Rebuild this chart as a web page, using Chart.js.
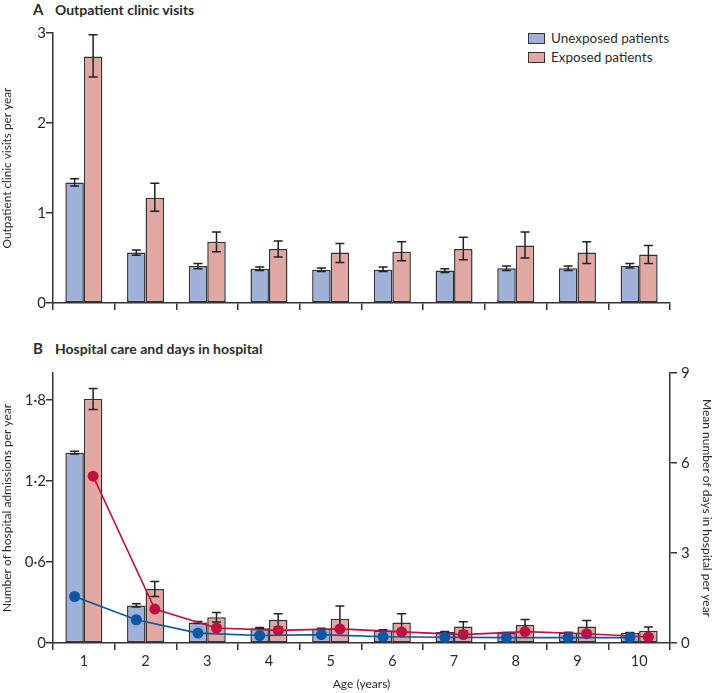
<!DOCTYPE html>
<html>
<head>
<meta charset="utf-8">
<title>Outpatient visits and hospital care by age</title>
<script src="https://cdn.jsdelivr.net/npm/chart.js@4.4.1/dist/chart.umd.min.js"></script>
<style>
  body { margin: 0; background: #fff; font-family: Lato, sans-serif; color: #2b2b2b; }
  #page { position: relative; width: 714px; height: 693px; }
  canvas { position: absolute; left: 0; }
  .title { position: absolute; left: 33px; font-size: 14px; font-weight: 700; white-space: nowrap; }
  .title span { display: inline-block; width: 22px; font-size: 15px; }
  .legend { position: absolute; left: 528px; top: 29px; font-size: 13.5px; line-height: 19px; }
  .legend i { display: inline-block; width: 15px; height: 9px; border: 1.5px solid #333; vertical-align: -1px; margin-right: 6px; }
</style>
</head>
<body>
<div id="page">
  <div class="title" style="top:0px"><span>A</span>Outpatient clinic visits</div>
  <div class="legend">
    <div><i style="background:#9fb1d8"></i>Unexposed patients</div>
    <div><i style="background:#e1a7a2"></i>Exposed patients</div>
  </div>
  <canvas id="chartA" width="714" height="320" style="top:0"></canvas>
  <div class="title" style="top:339px"><span>B</span>Hospital care and days in hospital</div>
  <canvas id="chartB" width="714" height="363" style="top:330px"></canvas>
  <canvas id="chartBDays" width="714" height="363" style="top:330px"></canvas>
</div>
<script>
const ages = ['1', '2', '3', '4', '5', '6', '7', '8', '9', '10'];

// A: outpatient clinic visits per year
const visitsUnexposed = [1.34, 0.56, 0.41, 0.38, 0.37, 0.37, 0.36, 0.385, 0.385, 0.415];
const visitsUnexposedLow = [1.30, 0.53, 0.38, 0.36, 0.35, 0.35, 0.34, 0.36, 0.36, 0.39];
const visitsUnexposedHigh = [1.38, 0.59, 0.44, 0.40, 0.39, 0.40, 0.38, 0.41, 0.41, 0.44];
const visitsExposed = [2.74, 1.17, 0.68, 0.60, 0.56, 0.57, 0.60, 0.64, 0.56, 0.54];
const visitsExposedLow = [2.51, 1.02, 0.57, 0.51, 0.45, 0.47, 0.48, 0.50, 0.44, 0.44];
const visitsExposedHigh = [2.98, 1.33, 0.79, 0.69, 0.66, 0.68, 0.73, 0.79, 0.68, 0.64];

// B: hospital admissions per year (bars) and days in hospital per year (lines)
const admitUnexposed = [1.41, 0.278, 0.152, 0.11, 0.105, 0.093, 0.081, 0.074, 0.076, 0.074];
const admitUnexposedLow = [1.40, 0.266, 0.145, 0.105, 0.10, 0.088, 0.077, 0.07, 0.072, 0.07];
const admitUnexposedHigh = [1.42, 0.29, 0.16, 0.115, 0.11, 0.098, 0.086, 0.078, 0.08, 0.078];
const admitExposed = [1.81, 0.40, 0.19, 0.17, 0.18, 0.152, 0.123, 0.133, 0.123, 0.091];
const admitExposedLow = [1.73, 0.345, 0.155, 0.12, 0.09, 0.09, 0.09, 0.095, 0.085, 0.065];
const admitExposedHigh = [1.885, 0.455, 0.226, 0.217, 0.275, 0.217, 0.157, 0.175, 0.167, 0.118];
const daysUnexposed = [1.55, 0.775, 0.33, 0.25, 0.28, 0.21, 0.19, 0.18, 0.18, 0.18];
const daysExposed = [5.56, 1.13, 0.50, 0.42, 0.47, 0.37, 0.28, 0.38, 0.31, 0.20];

const leftTicks = [0, 0.6, 1.2, 1.8];

const ink = '#2b2b2b';
const blueFill = '#9fb1d8';
const redFill = '#e1a7a2';
const blueLine = '#0d56a4';
const redLine = '#c1103f';

Chart.defaults.font.family = 'Lato, sans-serif';
Chart.defaults.color = ink;

// error bars drawn right after each bar dataset
const errorBars = {
  id: 'errorBars',
  afterDatasetDraw(chart, args) {
    const ds = chart.data.datasets[args.index];
    if (!ds.errLow) return;
    const y = chart.scales[ds.yAxisID || 'y'];
    const ctx = chart.ctx;
    ctx.save();
    ctx.strokeStyle = '#222';
    ctx.lineWidth = 1.5;
    args.meta.data.forEach((bar, i) => {
      const top = y.getPixelForValue(ds.errHigh[i]);
      const bot = y.getPixelForValue(ds.errLow[i]);
      ctx.beginPath();
      ctx.moveTo(bar.x, top); ctx.lineTo(bar.x, bot);
      ctx.moveTo(bar.x - 4.5, top); ctx.lineTo(bar.x + 4.5, top);
      ctx.moveTo(bar.x - 4.5, bot); ctx.lineTo(bar.x + 4.5, bot);
      ctx.stroke();
    });
    ctx.restore();
  }
};

const barStyle = { borderColor: '#333', borderWidth: 1.5, borderSkipped: false };
const lineStyle = { borderWidth: 1.6, pointRadius: 5.5, pointBorderWidth: 0 };
const axisGrid = { drawOnChartArea: false, tickLength: 7, color: '#333', lineWidth: 1.5 };
const axisBorder = { color: '#333', width: 1.5 };

new Chart(document.getElementById('chartA'), {
  type: 'bar',
  data: {
    labels: ages,
    datasets: [
      { label: 'Unexposed patients', data: visitsUnexposed, errLow: visitsUnexposedLow, errHigh: visitsUnexposedHigh, backgroundColor: blueFill, ...barStyle },
      { label: 'Exposed patients', data: visitsExposed, errLow: visitsExposedLow, errHigh: visitsExposedHigh, backgroundColor: redFill, ...barStyle }
    ]
  },
  options: {
    responsive: false,
    animation: false,
    layout: { padding: { top: 33, right: 44, left: 0, bottom: 0 } },
    datasets: { bar: { categoryPercentage: 0.6, barPercentage: 1 } },
    plugins: { legend: { display: false }, tooltip: { enabled: false } },
    scales: {
      x: {
        grid: { ...axisGrid, offset: true },
        border: axisBorder,
        ticks: { display: false },
        afterFit: s => { s.height = 17; }
      },
      y: {
        min: 0, max: 3,
        ticks: { stepSize: 1, padding: 0, font: { size: 15 } },
        grid: axisGrid,
        border: axisBorder,
        title: { display: true, text: 'Outpatient clinic visits per year', padding: 0, font: { size: 11.8 } },
        afterFit: s => { s.width = 53; }
      }
    }
  },
  plugins: [errorBars]
});

const fmt = v => v === 0 ? '0' : v.toFixed(1).replace('.', '·');

// B, bars and all three axes
new Chart(document.getElementById('chartB'), {
  type: 'bar',
  data: {
    labels: ages,
    datasets: [
      { label: 'Unexposed patients', data: admitUnexposed, errLow: admitUnexposedLow, errHigh: admitUnexposedHigh, backgroundColor: blueFill, ...barStyle },
      { label: 'Exposed patients', data: admitExposed, errLow: admitExposedLow, errHigh: admitExposedHigh, backgroundColor: redFill, ...barStyle }
    ]
  },
  options: {
    responsive: false,
    animation: false,
    layout: { padding: { top: 43, right: 0, left: 0, bottom: 0 } },
    datasets: { bar: { categoryPercentage: 0.6, barPercentage: 1 } },
    plugins: { legend: { display: false }, tooltip: { enabled: false } },
    scales: {
      x: {
        grid: { ...axisGrid, offset: true },
        border: axisBorder,
        ticks: { padding: 3, font: { size: 14.5 } },
        title: { display: true, text: 'Age (years)', padding: { top: 0, bottom: 2 }, font: { size: 12 } },
        afterFit: s => { s.height = 50; }
      },
      y: {
        position: 'left',
        min: 0, max: 2,
        afterBuildTicks: s => { s.ticks = leftTicks.map(v => ({ value: v })); },
        ticks: { padding: 0, font: { size: 15 }, callback: v => fmt(v) },
        grid: axisGrid,
        border: axisBorder,
        title: { display: true, text: 'Number of hospital admissions per year', padding: 0, font: { size: 12 } },
        afterFit: s => { s.width = 53; }
      },
      y2: {
        position: 'right',
        min: 0, max: 9,
        ticks: { stepSize: 3, padding: 4, font: { size: 15 } },
        grid: axisGrid,
        border: axisBorder,
        title: { display: true, text: 'Mean number of days in hospital per year', padding: 0, font: { size: 12 } },
        afterFit: s => { s.width = 44; }
      }
    }
  },
  plugins: [errorBars]
});

// B, days-in-hospital lines on a transparent overlay with the same plot area;
// a linear age axis lets each point sit over its own bar (age -/+ 0.15)
new Chart(document.getElementById('chartBDays'), {
  type: 'line',
  data: {
    datasets: [
      { label: 'Unexposed days', data: daysUnexposed.map((v, i) => ({ x: i + 1 - 0.15, y: v })), borderColor: blueLine, backgroundColor: blueLine, ...lineStyle },
      { label: 'Exposed days', data: daysExposed.map((v, i) => ({ x: i + 1 + 0.15, y: v })), borderColor: redLine, backgroundColor: redLine, ...lineStyle }
    ]
  },
  options: {
    responsive: false,
    animation: false,
    layout: { padding: { top: 43, right: 44, left: 53, bottom: 50 } },
    plugins: { legend: { display: false }, tooltip: { enabled: false } },
    scales: {
      x: { type: 'linear', min: 0.5, max: 10.5, display: false },
      y: { min: 0, max: 9, display: false }
    }
  }
});
</script>
</body>
</html>
